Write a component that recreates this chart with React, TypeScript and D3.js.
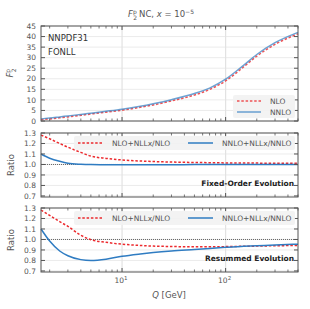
import React, { useEffect, useRef } from 'react';
import * as d3 from 'd3';

// Q grid (GeV) and curves
const qValues = [1.65, 2, 2.5, 3, 4, 5, 7, 10, 15, 20, 30, 50, 70, 100, 150, 200, 300, 500];
const f2Nlo = [0.6, 1.0, 1.5, 1.95, 2.7, 3.3, 4.2, 5.1, 6.5, 7.6, 9.5, 12.3, 14.9, 19.0, 25.7, 30.7, 36.3, 41.3];
const f2Nnlo = [1.0, 1.4, 1.95, 2.4, 3.1, 3.7, 4.6, 5.6, 7.0, 8.2, 10.1, 13.0, 15.6, 19.8, 26.5, 31.5, 37.1, 42.0];
const fixedNlo = [1.28, 1.245, 1.2, 1.165, 1.115, 1.08, 1.058, 1.043, 1.033, 1.028, 1.023, 1.019, 1.017, 1.015, 1.014, 1.013, 1.012, 1.011];
const fixedNnlo = [1.1, 1.06, 1.03, 1.012, 1.002, 0.999, 0.998, 0.998, 0.998, 0.998, 0.998, 0.999, 0.999, 0.999, 0.999, 1.0, 1.0, 1.0];
const resumNlo = [1.28, 1.23, 1.17, 1.125, 1.04, 0.998, 0.973, 0.955, 0.943, 0.937, 0.933, 0.93, 0.93, 0.932, 0.935, 0.937, 0.94, 0.943];
const resumNnlo = [1.1, 0.985, 0.89, 0.845, 0.808, 0.8, 0.812, 0.84, 0.862, 0.875, 0.89, 0.905, 0.915, 0.925, 0.935, 0.94, 0.948, 0.955];

const f2Ticks = [0, 5, 10, 15, 20, 25, 30, 35, 40, 45];
const ratioTicks = [0.7, 0.8, 0.9, 1.0, 1.1, 1.2, 1.3];
const topLegend = ['NLO', 'NNLO'];
const ratioLegend = ['NLO+NLLx/NLO', 'NNLO+NLLx/NNLO'];
const panelNotes = ['Fixed-Order Evolution', 'Resummed Evolution'];

const RED = '#ec2a2e';
const BLUE = '#2f7cc2';
const FONT = 'DejaVu Sans, sans-serif';
const TXT = '#555';

export default function App() {
  const svgRef = useRef<SVGSVGElement>(null);

  useEffect(() => {
    if (!svgRef.current) return;
    const svg = d3.select(svgRef.current);
    svg.selectAll('*').remove();

    const x = d3.scaleLog().domain([1.65, 500]).range([41, 298]);

    const panels = [
      { y: d3.scaleLinear().domain([0, 45]).range([121, 26]), ticks: f2Ticks, fmt: (d: number) => String(d) },
      { y: d3.scaleLinear().domain([0.69, 1.3]).range([197, 133]), ticks: ratioTicks, fmt: d3.format('.1f') },
      { y: d3.scaleLinear().domain([0.69, 1.3]).range([272, 208]), ticks: ratioTicks, fmt: d3.format('.1f') },
    ];

    const minorTicks: number[] = [];
    [1, 10, 100].forEach(dec => {
      for (let k = 2; k < 10; k++) {
        const v = k * dec;
        if (v >= 1.65 && v <= 500) minorTicks.push(v);
      }
    });
    const majorX = [10, 100];

    const drawLine = (g: any, y: any, vals: number[], color: string, dashed: boolean, width = 1.5, opacity = 1) => {
      const line = d3.line<number>()
        .x((_, i) => x(qValues[i]))
        .y(d => y(d))
        .curve(d3.curveMonotoneX);
      g.append('path')
        .attr('d', line(vals))
        .attr('fill', 'none')
        .attr('stroke', color)
        .attr('stroke-width', width)
        .attr('stroke-opacity', opacity)
        .attr('stroke-dasharray', dashed ? '2.5,1.8' : null);
    };

    panels.forEach((p, pi) => {
      const g = svg.append('g');
      const [yb, yt] = p.y.range();

      // grid
      p.ticks.forEach(t => {
        g.append('line').attr('x1', 41).attr('x2', 298).attr('y1', p.y(t)).attr('y2', p.y(t))
          .attr('stroke', '#e6e6e6').attr('stroke-width', 0.8);
      });
      majorX.forEach(t => {
        g.append('line').attr('x1', x(t)).attr('x2', x(t)).attr('y1', yt).attr('y2', yb)
          .attr('stroke', '#e2e2e2').attr('stroke-width', 1.2);
      });

      if (pi > 0) {
        g.append('line').attr('x1', 41).attr('x2', 298).attr('y1', p.y(1)).attr('y2', p.y(1))
          .attr('stroke', '#666').attr('stroke-width', 1).attr('stroke-dasharray', '1,1');
      }

      // curves
      if (pi === 0) {
        drawLine(g, p.y, f2Nlo, RED, true, 1.5, 0.8);
        drawLine(g, p.y, f2Nnlo, BLUE, false, 1.5, 0.7);
      } else if (pi === 1) {
        drawLine(g, p.y, fixedNlo, RED, true);
        drawLine(g, p.y, fixedNnlo, BLUE, false);
      } else {
        drawLine(g, p.y, resumNlo, RED, true);
        drawLine(g, p.y, resumNnlo, BLUE, false);
      }

      // frame
      g.append('rect').attr('x', 41).attr('y', yt).attr('width', 257).attr('height', yb - yt)
        .attr('fill', 'none').attr('stroke', '#555').attr('stroke-width', 1);

      // y ticks (in, both sides) + labels
      p.ticks.forEach(t => {
        const yy = p.y(t);
        g.append('line').attr('x1', 41).attr('x2', 45).attr('y1', yy).attr('y2', yy).attr('stroke', '#555');
        g.append('line').attr('x1', 294).attr('x2', 298).attr('y1', yy).attr('y2', yy).attr('stroke', '#555');
        g.append('text').attr('x', 36).attr('y', yy).attr('dy', '0.35em').attr('text-anchor', 'end')
          .style('font-family', FONT).style('font-size', '7.5px').attr('fill', TXT).text(p.fmt(t));
      });
      // x ticks (in, top & bottom)
      majorX.forEach(t => {
        g.append('line').attr('x1', x(t)).attr('x2', x(t)).attr('y1', yb).attr('y2', yb - 4).attr('stroke', '#555');
        g.append('line').attr('x1', x(t)).attr('x2', x(t)).attr('y1', yt).attr('y2', yt + 4).attr('stroke', '#555');
      });
      minorTicks.forEach(t => {
        g.append('line').attr('x1', x(t)).attr('x2', x(t)).attr('y1', yb).attr('y2', yb - 2.5).attr('stroke', '#555').attr('stroke-width', 0.8);
        g.append('line').attr('x1', x(t)).attr('x2', x(t)).attr('y1', yt).attr('y2', yt + 2.5).attr('stroke', '#555').attr('stroke-width', 0.8);
      });

      // y labels
      if (pi === 0) {
        const lab = g.append('text').attr('transform', 'translate(13,73) rotate(-90)')
          .attr('text-anchor', 'middle').style('font-family', FONT).attr('fill', TXT);
        lab.append('tspan').style('font-size', '8.5px').style('font-style', 'italic').text('F');
        lab.append('tspan').style('font-size', '6px').attr('dy', -3.5).text('p');
        lab.append('tspan').style('font-size', '6px').attr('dx', -3.5).attr('dy', 6.5).text('2');
      } else {
        g.append('text').attr('transform', `translate(14,${(yt + yb) / 2}) rotate(-90)`)
          .attr('text-anchor', 'middle').style('font-family', FONT).style('font-size', '8.5px')
          .attr('fill', TXT).text('Ratio');
      }

      // legends
      if (pi === 0) {
        g.append('rect').attr('x', 233).attr('y', 95).attr('width', 62).attr('height', 23).attr('rx', 2)
          .attr('fill', '#f2f2f2').attr('fill-opacity', 0.9);
        topLegend.forEach((name, i) => {
          const yy = 101 + i * 11;
          g.append('line').attr('x1', 237).attr('x2', 261).attr('y1', yy).attr('y2', yy)
            .attr('stroke', i === 0 ? RED : BLUE).attr('stroke-width', 1.5)
            .attr('stroke-opacity', i === 0 ? 0.8 : 0.7)
            .attr('stroke-dasharray', i === 0 ? '2.5,1.8' : null);
          g.append('text').attr('x', 270).attr('y', yy).attr('dy', '0.35em')
            .style('font-family', FONT).style('font-size', '7.5px').attr('fill', TXT).text(name);
        });
        g.append('text').attr('x', 48).attr('y', 38).attr('dy', '0.35em')
          .style('font-family', FONT).style('font-size', '8.5px').attr('fill', '#333').text('NNPDF31');
        g.append('text').attr('x', 48).attr('y', 52).attr('dy', '0.35em')
          .style('font-family', FONT).style('font-size', '8.5px').attr('fill', '#333').text('FONLL');
      } else {
        const ly = yt + 10;
        g.append('rect').attr('x', 74).attr('y', yt + 3).attr('width', 221).attr('height', 14).attr('rx', 2)
          .attr('fill', '#f2f2f2').attr('fill-opacity', 0.9);
        g.append('line').attr('x1', 78).attr('x2', 103).attr('y1', ly).attr('y2', ly)
          .attr('stroke', RED).attr('stroke-width', 1.5).attr('stroke-dasharray', '2.5,1.8');
        g.append('text').attr('x', 112).attr('y', ly).attr('dy', '0.35em')
          .style('font-family', FONT).style('font-size', '7.5px').attr('fill', TXT).text(ratioLegend[0]);
        g.append('line').attr('x1', 188).attr('x2', 213).attr('y1', ly).attr('y2', ly)
          .attr('stroke', BLUE).attr('stroke-width', 1.5);
        g.append('text').attr('x', 222).attr('y', ly).attr('dy', '0.35em')
          .style('font-family', FONT).style('font-size', '7.5px').attr('fill', TXT).text(ratioLegend[1]);
        g.append('text').attr('x', 294).attr('y', yb - 14).attr('dy', '0.35em').attr('text-anchor', 'end')
          .style('font-family', FONT).style('font-size', '7.5px').style('font-weight', 'bold')
          .attr('fill', '#222').text(panelNotes[pi - 1]);
      }
    });

    // x tick labels
    majorX.forEach((t, i) => {
      const lab = svg.append('text').attr('x', x(t) - 1).attr('y', 283).attr('text-anchor', 'middle')
        .style('font-family', FONT).style('font-size', '7.5px').attr('fill', TXT);
      lab.append('tspan').text('10');
      lab.append('tspan').style('font-size', '5.5px').attr('dy', -3).text(String(i + 1));
    });
    const xl = svg.append('text').attr('x', 169).attr('y', 298).attr('text-anchor', 'middle')
      .style('font-family', FONT).style('font-size', '8.5px').attr('fill', TXT);
    xl.append('tspan').style('font-style', 'italic').text('Q');
    xl.append('tspan').text(' [GeV]');

    // title
    const title = svg.append('text').attr('x', 128).attr('y', 17)
      .style('font-family', FONT).style('font-size', '8.5px').attr('fill', TXT);
    title.append('tspan').style('font-style', 'italic').text('F');
    title.append('tspan').style('font-size', '6px').attr('dy', -3.5).text('p');
    title.append('tspan').style('font-size', '6px').attr('dx', -3.5).attr('dy', 6.5).text('2');
    title.append('tspan').attr('dy', -3).attr('dx', 2).text('NC, ');
    title.append('tspan').style('font-style', 'italic').text('x');
    title.append('tspan').text(' = 10');
    title.append('tspan').style('font-size', '6px').attr('dy', -3.5).text('\u22125');
  }, []);

  return (
    <svg
      ref={svgRef}
      width={310}
      height={309}
      style={{ position: 'absolute', left: 0, top: 0, background: '#fff' }}
    />
  );
}
